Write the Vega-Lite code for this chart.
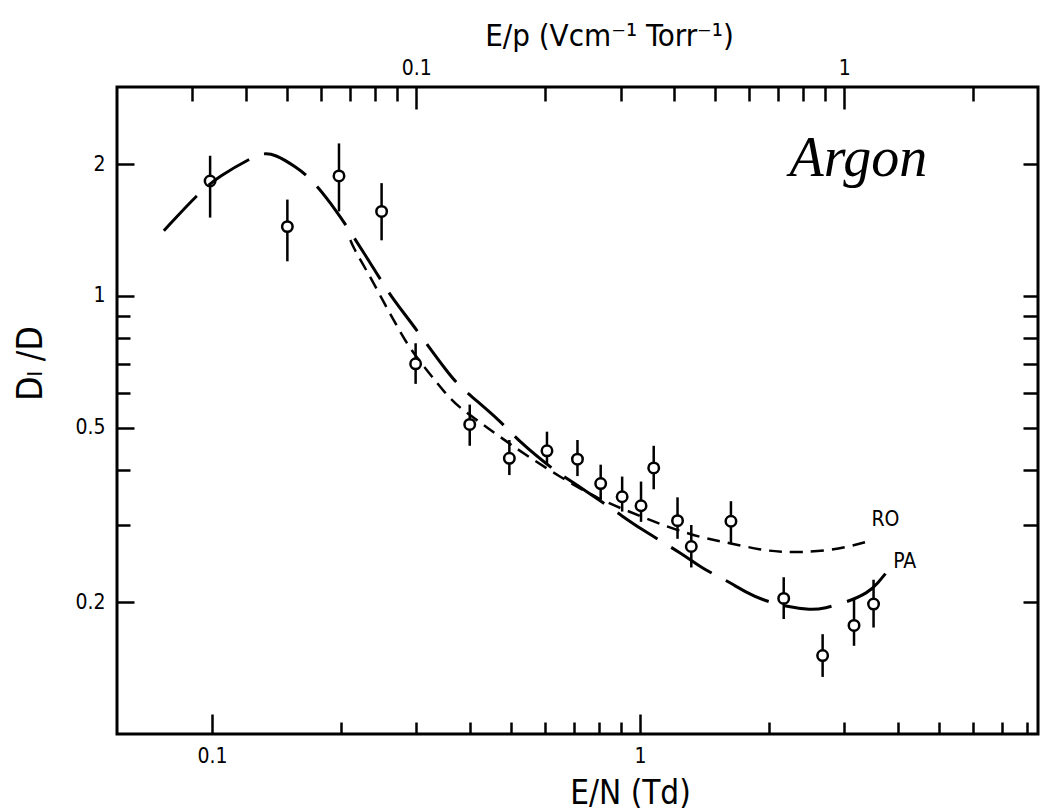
{
  "$schema": "https://vega.github.io/schema/vega-lite/v6.json",
  "width": 921,
  "height": 647,
  "autosize": "none",
  "padding": {"left": 117, "top": 87, "right": 10, "bottom": 76},
  "background": "white",
  "config": {
    "font": "DejaVu Sans Condensed, Liberation Sans Narrow, DejaVu Sans, sans-serif",
    "view": {"stroke": "black", "strokeWidth": 3},
    "axis": {
      "domain": false,
      "grid": false,
      "tickColor": "black",
      "tickWidth": 2.5,
      "labelColor": "black",
      "labelFontSize": 21,
      "labelFont": "DejaVu Sans Condensed, Liberation Sans Narrow, DejaVu Sans, sans-serif",
      "titleFont": "DejaVu Sans Condensed, Liberation Sans Narrow, DejaVu Sans, sans-serif",
      "titleColor": "black",
      "titleFontWeight": "normal",
      "labelFlush": false,
      "labelOverlap": false
    }
  },
  "datasets": {
    "pts": [
      {"en": 0.099, "dl": 1.83, "lo": 1.51, "hi": 2.09},
      {"en": 0.150, "dl": 1.44, "lo": 1.20, "hi": 1.66},
      {"en": 0.198, "dl": 1.88, "lo": 1.56, "hi": 2.23},
      {"en": 0.249, "dl": 1.56, "lo": 1.34, "hi": 1.81},
      {"en": 0.299, "dl": 0.70, "lo": 0.63, "hi": 0.78},
      {"en": 0.400, "dl": 0.509, "lo": 0.455, "hi": 0.565},
      {"en": 0.495, "dl": 0.426, "lo": 0.390, "hi": 0.469},
      {"en": 0.606, "dl": 0.443, "lo": 0.414, "hi": 0.490},
      {"en": 0.714, "dl": 0.424, "lo": 0.388, "hi": 0.469},
      {"en": 0.809, "dl": 0.373, "lo": 0.343, "hi": 0.412},
      {"en": 0.908, "dl": 0.348, "lo": 0.322, "hi": 0.387},
      {"en": 1.005, "dl": 0.332, "lo": 0.305, "hi": 0.377},
      {"en": 1.076, "dl": 0.405, "lo": 0.362, "hi": 0.455},
      {"en": 1.223, "dl": 0.307, "lo": 0.279, "hi": 0.347},
      {"en": 1.317, "dl": 0.268, "lo": 0.240, "hi": 0.300},
      {"en": 1.630, "dl": 0.306, "lo": 0.273, "hi": 0.340},
      {"en": 2.165, "dl": 0.204, "lo": 0.183, "hi": 0.228},
      {"en": 2.669, "dl": 0.151, "lo": 0.135, "hi": 0.169},
      {"en": 3.16, "dl": 0.177, "lo": 0.159, "hi": 0.203},
      {"en": 3.51, "dl": 0.198, "lo": 0.175, "hi": 0.225}
    ],
    "pa": [
      {"en": 0.0772, "dl": 1.409},
      {"en": 0.0934, "dl": 1.725},
      {"en": 0.1041, "dl": 1.879},
      {"en": 0.1247, "dl": 2.077},
      {"en": 0.1316, "dl": 2.118},
      {"en": 0.140, "dl": 2.110},
      {"en": 0.1573, "dl": 1.970},
      {"en": 0.1724, "dl": 1.835},
      {"en": 0.1977, "dl": 1.538},
      {"en": 0.2074, "dl": 1.432},
      {"en": 0.2399, "dl": 1.148},
      {"en": 0.2617, "dl": 0.997},
      {"en": 0.2935, "dl": 0.865},
      {"en": 0.359, "dl": 0.658},
      {"en": 0.3855, "dl": 0.612},
      {"en": 0.4766, "dl": 0.5144},
      {"en": 0.516, "dl": 0.469},
      {"en": 0.638, "dl": 0.396},
      {"en": 0.679, "dl": 0.382},
      {"en": 0.902, "dl": 0.3165},
      {"en": 0.977, "dl": 0.2985},
      {"en": 1.275, "dl": 0.2555},
      {"en": 1.392, "dl": 0.239},
      {"en": 1.578, "dl": 0.2253},
      {"en": 1.769, "dl": 0.2103},
      {"en": 1.934, "dl": 0.2022},
      {"en": 2.211, "dl": 0.195},
      {"en": 2.505, "dl": 0.1919},
      {"en": 2.692, "dl": 0.1934},
      {"en": 3.052, "dl": 0.2003},
      {"en": 3.401, "dl": 0.2098},
      {"en": 3.591, "dl": 0.2209},
      {"en": 3.828, "dl": 0.2388}
    ],
    "ro": [
      {"en": 0.2105, "dl": 1.342},
      {"en": 0.2138, "dl": 1.293},
      {"en": 0.2230, "dl": 1.201},
      {"en": 0.2374, "dl": 1.080},
      {"en": 0.2525, "dl": 0.963},
      {"en": 0.2684, "dl": 0.866},
      {"en": 0.2878, "dl": 0.765},
      {"en": 0.3226, "dl": 0.664},
      {"en": 0.3492, "dl": 0.6026},
      {"en": 0.378, "dl": 0.556},
      {"en": 0.4243, "dl": 0.5134},
      {"en": 0.4636, "dl": 0.482},
      {"en": 0.534, "dl": 0.437},
      {"en": 0.6493, "dl": 0.3864},
      {"en": 0.8033, "dl": 0.343},
      {"en": 0.943, "dl": 0.322},
      {"en": 1.147, "dl": 0.2979},
      {"en": 1.393, "dl": 0.2804},
      {"en": 1.61, "dl": 0.2731},
      {"en": 1.92, "dl": 0.263},
      {"en": 2.138, "dl": 0.2604},
      {"en": 2.381, "dl": 0.26},
      {"en": 2.704, "dl": 0.2619},
      {"en": 3.063, "dl": 0.2675},
      {"en": 3.413, "dl": 0.2753}
    ],
    "labels": [
      {"en": 3.47, "dl": 0.3076, "label": "RO"},
      {"en": 3.9, "dl": 0.247, "label": "PA"}
    ],
    "gas": [
      {"en": 3.235, "dl": 1.88, "label": "Argon"}
    ],
    "topticks": [
      {"ep": 0.1},
      {"ep": 1}
    ]
  },
  "resolve": {
    "scale": {"x": "independent"},
    "axis": {"x": "independent", "y": "independent"}
  },
  "layer": [
    {
      "data": {"name": "pts"},
      "mark": {"type": "rule", "color": "black", "strokeWidth": 2.5},
      "encoding": {
        "x": {
          "field": "en", "type": "quantitative",
          "scale": {"type": "log", "domain": [0.06, 8.5], "nice": false},
          "axis": {
            "orient": "bottom", "values": [0.1, 1], "format": "~g",
            "tickSize": -20, "labelPadding": 31, "labelFontSize": 21,
            "title": "E/N (Td)", "titleFontSize": 33,
            "titleX": 513, "titleY": 69, "titleAlign": "center", "titleBaseline": "alphabetic"
          }
        },
        "y": {
          "field": "lo", "type": "quantitative",
          "scale": {"type": "log", "domain": [0.1, 3], "nice": false},
          "axis": {
            "orient": "left", "values": [0.2, 0.5, 1, 2], "format": "~g",
            "tickSize": -17, "labelPadding": 29, "labelFontSize": 21,
            "title": "Dₗ /D", "titleFontSize": 35, "titleAngle": -90,
            "titleX": -76, "titleY": 276, "titleAlign": "center", "titleBaseline": "alphabetic"
          }
        },
        "y2": {"field": "hi"}
      }
    },
    {
      "data": {"name": "pts"},
      "mark": {"type": "point", "shape": "circle", "size": 110, "filled": true, "fill": "white", "fillOpacity": 1, "stroke": "black", "strokeWidth": 2.5, "opacity": 1},
      "encoding": {
        "x": {
          "field": "en", "type": "quantitative",
          "scale": {"type": "log", "domain": [0.06, 8.5], "nice": false},
          "axis": {
            "orient": "bottom", "values": [0.2, 0.3, 0.4, 0.5, 0.6, 0.7, 0.8, 0.9, 2, 3, 4, 5, 6, 7, 8],
            "labels": false, "tickSize": -12, "title": null
          }
        },
        "y": {
          "field": "dl", "type": "quantitative",
          "scale": {"type": "log", "domain": [0.1, 3], "nice": false},
          "axis": {
            "orient": "left", "values": [0.3, 0.4, 0.6, 0.7, 0.8, 0.9],
            "labels": false, "tickSize": -13, "title": null
          }
        }
      }
    },
    {
      "data": {"name": "pa"},
      "mark": {"type": "line", "color": "black", "strokeWidth": 3, "strokeDash": [48, 16], "interpolate": "basis"},
      "encoding": {
        "x": {
          "field": "en", "type": "quantitative",
          "scale": {"type": "log", "domain": [0.06, 8.5], "nice": false},
          "axis": null
        },
        "y": {
          "field": "dl", "type": "quantitative",
          "scale": {"type": "log", "domain": [0.1, 3], "nice": false},
          "axis": {
            "orient": "right", "values": [0.2, 0.3, 0.4, 0.5, 0.6, 0.7, 0.8, 0.9, 1, 2],
            "labels": false, "tickSize": -15, "title": null
          }
        }
      }
    },
    {
      "data": {"name": "ro"},
      "mark": {"type": "line", "color": "black", "strokeWidth": 2.5, "strokeDash": [13, 8], "interpolate": "basis"},
      "encoding": {
        "x": {
          "field": "en", "type": "quantitative",
          "scale": {"type": "log", "domain": [0.06, 8.5], "nice": false},
          "axis": null
        },
        "y": {
          "field": "dl", "type": "quantitative",
          "scale": {"type": "log", "domain": [0.1, 3], "nice": false},
          "axis": null
        }
      }
    },
    {
      "data": {"name": "labels"},
      "mark": {"type": "text", "align": "left", "baseline": "middle", "fontSize": 21, "color": "black", "font": "DejaVu Sans Condensed, Liberation Sans Narrow, DejaVu Sans, sans-serif"},
      "encoding": {
        "x": {
          "field": "en", "type": "quantitative",
          "scale": {"type": "log", "domain": [0.06, 8.5], "nice": false},
          "axis": null
        },
        "y": {
          "field": "dl", "type": "quantitative",
          "scale": {"type": "log", "domain": [0.1, 3], "nice": false},
          "axis": null
        },
        "text": {"field": "label"}
      }
    },
    {
      "data": {"name": "gas"},
      "mark": {"type": "text", "align": "center", "baseline": "alphabetic", "fontSize": 56, "fontStyle": "italic", "fontWeight": "normal", "color": "black", "font": "Liberation Serif"},
      "encoding": {
        "x": {
          "field": "en", "type": "quantitative",
          "scale": {"type": "log", "domain": [0.06, 8.5], "nice": false},
          "axis": null
        },
        "y": {
          "field": "dl", "type": "quantitative",
          "scale": {"type": "log", "domain": [0.1, 3], "nice": false},
          "axis": null
        },
        "text": {"field": "label"}
      }
    },
    {
      "data": {"name": "topticks"},
      "mark": {"type": "rule", "opacity": 0},
      "encoding": {
        "x": {
          "field": "ep", "type": "quantitative",
          "scale": {"type": "log", "domain": [0.02, 2.8333], "nice": false},
          "axis": {
            "orient": "top", "values": [0.1, 1], "format": "~g",
            "tickSize": -22, "labelPadding": 31, "labelFontSize": 21,
            "title": "E/p (Vcm⁻¹ Torr⁻¹)", "titleFontSize": 31,
            "titleX": 492, "titleY": -41.5, "titleAlign": "center", "titleBaseline": "alphabetic"
          }
        }
      }
    },
    {
      "data": {"name": "topticks"},
      "mark": {"type": "rule", "opacity": 0},
      "encoding": {
        "x": {
          "field": "ep", "type": "quantitative",
          "scale": {"type": "log", "domain": [0.02, 2.8333], "nice": false},
          "axis": {
            "orient": "top", "values": [0.03, 0.04, 0.05, 0.06, 0.07, 0.08, 0.09, 0.2, 0.3, 0.4, 0.5, 0.6, 0.7, 0.8, 0.9, 2],
            "labels": false, "tickSize": -14, "title": null
          }
        }
      }
    }
  ]
}
